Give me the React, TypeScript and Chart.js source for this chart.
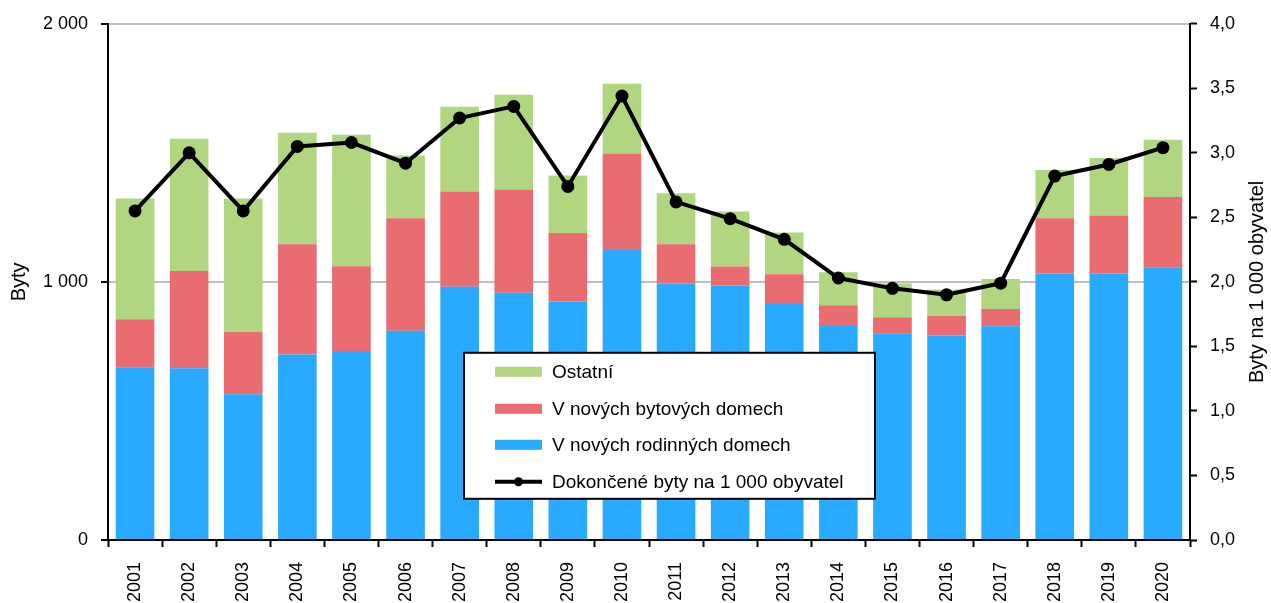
import React, { useEffect, useRef } from "react";
import { Chart, registerables } from "chart.js";

Chart.register(...registerables);

const years = ["2001", "2002", "2003", "2004", "2005", "2006", "2007", "2008", "2009", "2010", "2011", "2012", "2013", "2014", "2015", "2016", "2017", "2018", "2019", "2020"];
const rodinneDomy = [669, 665, 565, 719, 732, 811, 981, 958, 924, 1124, 994, 986, 914, 829, 801, 792, 828, 1033, 1032, 1057];
const bytoveDomy = [186, 377, 241, 427, 329, 436, 369, 400, 265, 373, 152, 74, 116, 81, 62, 76, 67, 214, 225, 272];
const ostatni = [468, 513, 517, 432, 509, 243, 329, 367, 223, 271, 197, 213, 161, 127, 131, 103, 116, 187, 223, 222];
const naTisicObyvatel = [2.55, 3.0, 2.55, 3.05, 3.08, 2.92, 3.27, 3.36, 2.74, 3.44, 2.62, 2.49, 2.33, 2.03, 1.95, 1.9, 1.99, 2.82, 2.91, 3.04];

const seriesLabels = ["Ostatní", "V nových bytových domech", "V nových rodinných domech", "Dokončené byty na 1 000 obyvatel"];
const leftTitle = "Byty";
const rightTitle = "Byty na 1 000 obyvatel";

const GREEN = "#b1d680";
const RED = "#e96c70";
const BLUE = "#29a9ff";
const FONT = '"Liberation Sans", Arial, sans-serif';

const fmtThousands = (v: number) => String(v).replace(/\B(?=(\d{3})+(?!\d))/g, " ");

const overlayPlugin = {
  id: "overlay",
  afterDraw(chart: any) {
    const ctx = chart.ctx;
    const ca = chart.chartArea;
    ctx.save();
    ctx.fillStyle = "#000";
    ctx.font = `20px ${FONT}`;
    ctx.textAlign = "center";
    ctx.textBaseline = "middle";
    const cy = (ca.top + ca.bottom) / 2;
    ctx.save();
    ctx.translate(19, cy);
    ctx.rotate(-Math.PI / 2);
    ctx.fillText(leftTitle, 0, 0);
    ctx.restore();
    ctx.save();
    ctx.translate(1257, cy);
    ctx.rotate(-Math.PI / 2);
    ctx.fillText(rightTitle, 0, 0);
    ctx.restore();

    // legend box
    const bx = ca.left + 356;
    const by = ca.top + 329;
    const bw = 411;
    const bh = 146;
    ctx.fillStyle = "#fff";
    ctx.fillRect(bx, by, bw, bh);
    ctx.strokeStyle = "#000";
    ctx.lineWidth = 2;
    ctx.strokeRect(bx, by, bw, bh);

    const rows = [19, 56, 92, 129];
    const colors = [GREEN, RED, BLUE];
    ctx.font = `19px ${FONT}`;
    ctx.textAlign = "left";
    ctx.textBaseline = "middle";
    for (let i = 0; i < 4; i++) {
      const ry = by + rows[i];
      if (i < 3) {
        ctx.fillStyle = colors[i];
        ctx.fillRect(bx + 31, ry - 5, 47, 10);
      } else {
        ctx.strokeStyle = "#000";
        ctx.lineWidth = 4;
        ctx.beginPath();
        ctx.moveTo(bx + 31, ry);
        ctx.lineTo(bx + 78, ry);
        ctx.stroke();
        ctx.fillStyle = "#000";
        ctx.beginPath();
        ctx.arc(bx + 54.5, ry, 4.5, 0, Math.PI * 2);
        ctx.fill();
      }
      ctx.fillStyle = "#000";
      ctx.fillText(seriesLabels[i], bx + 88, ry + 1);
    }
    ctx.restore();
  },
};

export default function App() {
  const canvasRef = useRef<HTMLCanvasElement>(null);

  useEffect(() => {
    if (!canvasRef.current) return;
    const chart = new Chart(canvasRef.current, {
      type: "bar",
      data: {
        labels: years,
        datasets: [
          {
            type: "line",
            label: seriesLabels[3],
            data: naTisicObyvatel,
            yAxisID: "y1",
            borderColor: "#000",
            backgroundColor: "#000",
            borderWidth: 4,
            pointRadius: 6.5,
            pointBackgroundColor: "#000",
            pointBorderWidth: 0,
            tension: 0,
            order: 0,
          } as any,
          {
            label: seriesLabels[2],
            data: rodinneDomy,
            backgroundColor: BLUE,
            yAxisID: "y",
            order: 1,
            barPercentage: 0.714,
            categoryPercentage: 1,
          },
          {
            label: seriesLabels[1],
            data: bytoveDomy,
            backgroundColor: RED,
            yAxisID: "y",
            order: 1,
            barPercentage: 0.714,
            categoryPercentage: 1,
          },
          {
            label: seriesLabels[0],
            data: ostatni,
            backgroundColor: GREEN,
            yAxisID: "y",
            order: 1,
            barPercentage: 0.714,
            categoryPercentage: 1,
          },
        ],
      },
      options: {
        responsive: false,
        animation: false,
        layout: { padding: { top: 23, left: 0, right: 0, bottom: 0 } },
        plugins: {
          legend: { display: false },
          tooltip: { enabled: false },
        },
        scales: {
          x: {
            stacked: true,
            grid: {
              offset: true,
              drawOnChartArea: false,
              tickLength: 7,
              tickColor: "#000",
              tickWidth: 2,
            },
            border: { display: true, color: "#000", width: 2 },
            ticks: {
              color: "#000",
              font: { family: FONT, size: 18 },
              minRotation: 90,
              maxRotation: 90,
              padding: 15,
              autoSkip: false,
            },
            afterFit: (scale: any) => {
              scale.height = 63;
            },
          },
          y: {
            stacked: true,
            position: "left",
            min: 0,
            max: 2000,
            ticks: {
              stepSize: 1000,
              color: "#000",
              font: { family: FONT, size: 18 },
              padding: 13,
              callback: (v: any) => fmtThousands(Number(v)),
            },
            grid: {
              color: "#bfbfbf",
              lineWidth: 2,
              tickLength: 7,
              tickColor: "#000",
              tickWidth: 2,
            },
            border: { display: true, color: "#000", width: 2 },
            afterFit: (scale: any) => {
              scale.width = 108;
            },
          },
          y1: {
            stacked: false,
            position: "right",
            min: 0,
            max: 4,
            ticks: {
              stepSize: 0.5,
              color: "#000",
              font: { family: FONT, size: 18 },
              padding: 13,
              callback: (v: any) => Number(v).toFixed(1).replace(".", ","),
            },
            grid: {
              drawOnChartArea: false,
              tickLength: 7,
              tickColor: "#000",
              tickWidth: 2,
            },
            border: { display: true, color: "#000", width: 2 },
            afterFit: (scale: any) => {
              scale.width = 81;
            },
          },
        },
      } as any,
      plugins: [overlayPlugin],
    });
    return () => chart.destroy();
  }, []);

  return (
    <div style={{ position: "fixed", left: 0, top: 0, width: 1271, height: 603, background: "#fff" }}>
      <canvas ref={canvasRef} width={1271} height={603} style={{ display: "block" }} />
    </div>
  );
}
